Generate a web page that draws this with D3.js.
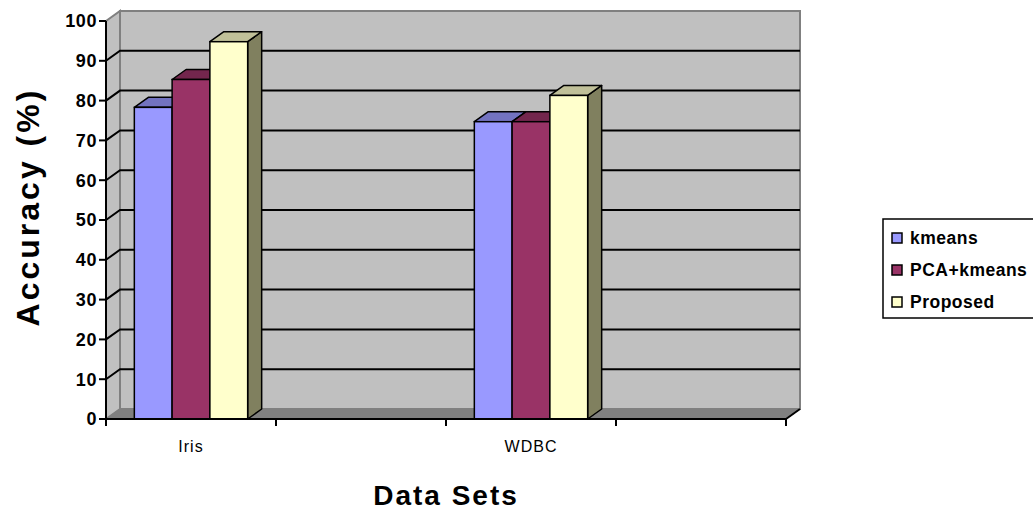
<!DOCTYPE html>
<html>
<head>
<meta charset="utf-8">
<script src="https://cdn.jsdelivr.net/npm/d3@7"></script>
<style>
  body { margin: 0; background: #fff; }
  svg { display: block; font-family: "Liberation Sans", Arial, Helvetica, sans-serif; }
</style>
</head>
<body>
<div id="chart"></div>
<script>
// data
const categories = ["Iris", "", "WDBC", ""];
const seriesNames = ["kmeans", "PCA+kmeans", "Proposed"];
const kmeans = [78.3, null, 74.7, null];
const pcaKmeans = [85.3, null, 74.7, null];
const proposed = [94.8, null, 81.3, null];
const yTicks = [0, 10, 20, 30, 40, 50, 60, 70, 80, 90, 100];

const seriesValues = [kmeans, pcaKmeans, proposed];
const front = ["#9999FF", "#993366", "#FFFFCC"];
const topC = ["#7373C0", "#73264D", "#C0C099"];
const sideC = ["#5C5C99", "#5C1F3D", "#80805F"];

const W = 1033, H = 513;
const dx = 14, dy = 10;   // 3D depth offset

const svg = d3.select("#chart").append("svg")
  .attr("width", W).attr("height", H);

const x = d3.scaleBand().domain(d3.range(categories.length)).range([106, 786]);
const xs = d3.scaleBand().domain(seriesNames).range([0, x.bandwidth()]).paddingOuter(0.75);
const y = d3.scaleLinear().domain([0, 100]).range([419, 21]);

const x0 = 106, x1 = 786, y0 = y(0), yTop = y(100);

// walls
svg.append("polygon")
  .attr("points", [[x0, yTop], [x0 + dx, yTop - dy], [x0 + dx, y0 - dy], [x0, y0]].join(" "))
  .attr("fill", "#C0C0C0").attr("stroke", "#808080").attr("stroke-width", 2);
svg.append("rect")
  .attr("x", x0 + dx).attr("y", yTop - dy).attr("width", x1 - x0).attr("height", y0 - yTop)
  .attr("fill", "#C0C0C0").attr("stroke", "#808080").attr("stroke-width", 2);
// floor
svg.append("polygon")
  .attr("points", [[x0, y0], [x0 + dx, y0 - dy], [x1 + dx, y0 - dy], [x1, y0]].join(" "))
  .attr("fill", "#808080").attr("stroke", "#808080").attr("stroke-width", 1);
svg.append("line")
  .attr("x1", x1).attr("y1", y0).attr("x2", x1 + dx).attr("y2", y0 - dy)
  .attr("stroke", "#000").attr("stroke-width", 2);

// gridlines
svg.append("g").selectAll("polyline")
  .data(yTicks.filter(t => t > 0 && t < 100))
  .join("polyline")
  .attr("points", t => [[x0, y(t)], [x0 + dx, y(t) - dy], [x1 + dx, y(t) - dy]].join(" "))
  .attr("fill", "none").attr("stroke", "#000").attr("stroke-width", 2);

// bars
const bars = svg.append("g");
categories.forEach((c, i) => {
  seriesNames.forEach((s, j) => {
    const v = seriesValues[j][i];
    if (v == null) return;
    const bx = x(i) + xs(s), bw = xs.bandwidth(), by = y(v);
    bars.append("polygon")
      .attr("points", [[bx + bw, by], [bx + bw + dx, by - dy], [bx + bw + dx, y0 - dy], [bx + bw, y0]].join(" "))
      .attr("fill", sideC[j]).attr("stroke", "#000").attr("stroke-width", 1.5).attr("stroke-linejoin", "round");
    bars.append("polygon")
      .attr("points", [[bx, by], [bx + dx, by - dy], [bx + bw + dx, by - dy], [bx + bw, by]].join(" "))
      .attr("fill", topC[j]).attr("stroke", "#000").attr("stroke-width", 1.5).attr("stroke-linejoin", "round");
    bars.append("rect")
      .attr("x", bx).attr("y", by).attr("width", bw).attr("height", y0 - by)
      .attr("fill", front[j]).attr("stroke", "#000").attr("stroke-width", 1.5);
  });
});

// axes
svg.append("line").attr("x1", x0).attr("x2", x0).attr("y1", yTop).attr("y2", y0 + 1)
  .attr("stroke", "#000").attr("stroke-width", 2);
svg.append("line").attr("x1", x0 - 1).attr("x2", x1).attr("y1", y0).attr("y2", y0)
  .attr("stroke", "#000").attr("stroke-width", 2);

const yAx = svg.append("g");
yAx.selectAll("line").data(yTicks).join("line")
  .attr("x1", x0 - 7).attr("x2", x0).attr("y1", d => y(d)).attr("y2", d => y(d))
  .attr("stroke", "#000").attr("stroke-width", 2);
yAx.selectAll("text").data(yTicks).join("text")
  .attr("x", 97).attr("y", d => y(d)).attr("dy", "0.36em")
  .attr("text-anchor", "end")
  .style("font-size", "18px").style("font-weight", "bold").style("letter-spacing", "0.6px")
  .text(d => d);

const bounds = d3.range(categories.length + 1).map(i => i < categories.length ? x(i) : x1);
svg.append("g").selectAll("line").data(bounds).join("line")
  .attr("x1", d => d).attr("x2", d => d).attr("y1", y0).attr("y2", y0 + 7)
  .attr("stroke", "#000").attr("stroke-width", 2);
svg.append("g").selectAll("text").data(categories).join("text")
  .attr("x", (d, i) => x(i) + x.bandwidth() / 2).attr("y", 452)
  .attr("text-anchor", "middle")
  .style("font-size", "16px").style("letter-spacing", "1px")
  .text(d => d);

// axis titles
svg.append("text")
  .attr("transform", "translate(39,207) rotate(-90)")
  .attr("text-anchor", "middle")
  .style("font-size", "32px").style("font-weight", "bold").style("letter-spacing", "3px")
  .text("Accuracy (%)");
svg.append("text")
  .attr("x", 446).attr("y", 505)
  .attr("text-anchor", "middle")
  .style("font-size", "28px").style("font-weight", "bold").style("letter-spacing", "2px")
  .text("Data Sets");

// legend
const lg = svg.append("g").attr("transform", "translate(883,219)");
lg.append("rect").attr("width", 170).attr("height", 99)
  .attr("fill", "#fff").attr("stroke", "#000").attr("stroke-width", 1.5);
const li = lg.selectAll("g").data(seriesNames).join("g")
  .attr("transform", (d, i) => `translate(0,${19 + i * 32})`);
li.append("rect").attr("x", 9).attr("y", -5).attr("width", 10).attr("height", 10)
  .attr("fill", (d, i) => front[i]).attr("stroke", "#000").attr("stroke-width", 1.5);
li.append("text").attr("x", 27).attr("dy", "0.36em")
  .style("font-size", "17.5px").style("font-weight", "bold").style("letter-spacing", "0.5px")
  .text(d => d);
</script>
</body>
</html>
